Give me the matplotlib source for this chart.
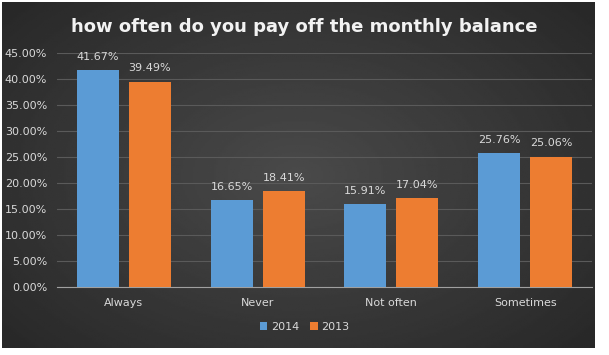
import numpy as np
import matplotlib.pyplot as plt

categories = ["Always", "Never", "Not often", "Sometimes"]
vals_2014 = [41.67, 16.65, 15.91, 25.76]
vals_2013 = [39.49, 18.41, 17.04, 25.06]
series_names = ["2014", "2013"]
yticks = [0, 5, 10, 15, 20, 25, 30, 35, 40, 45]

blue = "#5b9bd5"
orange = "#ed7d31"
txt = "#d9d9d9"

fig = plt.figure(figsize=(6.09, 3.55), dpi=100, facecolor="white")

# dark radial background
bg = fig.add_axes([2 / 609, 1 - 348 / 355, 593 / 609, 346 / 355])
yy, xx = np.mgrid[-1:1:200j, -1:1:300j]
r = np.sqrt(xx ** 2 + (yy * 0.9) ** 2)
bg.imshow(0.29 - 0.14 * np.clip(r, 0, 1.4) / 1.4, cmap="gray", vmin=0, vmax=1,
          aspect="auto", extent=[0, 1, 0, 1])
bg.set_axis_off()

ax = fig.add_axes([57 / 609, 1 - 287 / 355, 535 / 609, 234 / 355])
ax.patch.set_alpha(0)
x = np.arange(len(categories))
w = 0.315
b1 = ax.bar(x - w / 2 - 0.037, vals_2014, w, color=blue, label=series_names[0], zorder=3)
b2 = ax.bar(x + w / 2 + 0.037, vals_2013, w, color=orange, label=series_names[1], zorder=3)
for bars, vals in ((b1, vals_2014), (b2, vals_2013)):
    for bar, v in zip(bars, vals):
        ax.text(bar.get_x() + bar.get_width() / 2, v + 1.6, f"{v:.2f}%",
                ha="center", va="bottom", color=txt, fontsize=8)

ax.set_xlim(-0.5, 3.5)
ax.set_ylim(0, 45)
ax.set_yticks(yticks)
ax.set_yticklabels([f"{t:.2f}%" for t in yticks], color=txt, fontsize=8)
ax.set_xticks(x)
ax.set_xticklabels(categories, color=txt, fontsize=8)
ax.tick_params(length=0, pad=7)
ax.tick_params(axis="x", pad=8)
ax.grid(axis="y", color="#5a5a5a", linewidth=0.8, zorder=0)
for s in ["top", "right", "left"]:
    ax.spines[s].set_visible(False)
ax.spines["bottom"].set_color("#a0a0a0")

fig.text(0.499, 1 - 27 / 355, "how often do you pay off the monthly balance",
         ha="center", va="center", color="#f2f2f2", fontsize=13, fontweight="bold")

leg = fig.legend(handles=[b1, b2], labels=series_names, loc="center",
                 bbox_to_anchor=(0.5, 1 - 327 / 355), ncol=2, frameon=False,
                 fontsize=8, handlelength=0.7, handleheight=0.7,
                 handletextpad=0.3, columnspacing=1.0)
for t in leg.get_texts():
    t.set_color(txt)

fig.savefig("out.png", dpi=100, facecolor="white")
